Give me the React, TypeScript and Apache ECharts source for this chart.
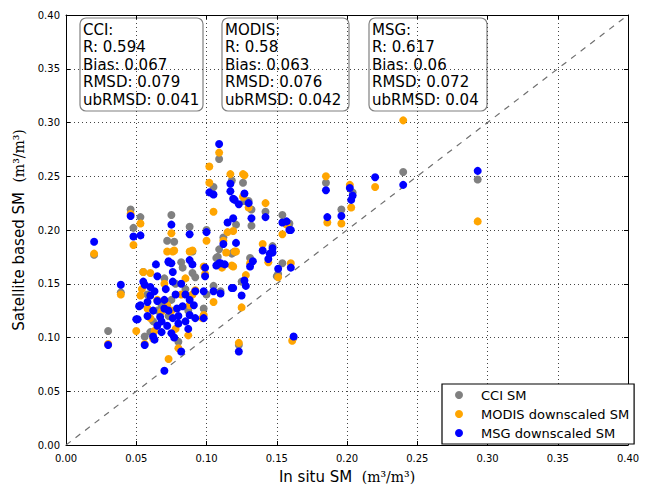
import React, { useEffect, useRef } from "react";
import * as echarts from "echarts";

const axisTicks = [0, 0.05, 0.1, 0.15, 0.2, 0.25, 0.3, 0.35, 0.4];
const seriesNames = ["CCI SM", "MODIS downscaled SM", "MSG downscaled SM"];

const cciPoints: number[][] = [
  [0.293, 0.247], [0.24, 0.254], [0.204, 0.235], [0.185, 0.244], [0.196, 0.219], [0.159, 0.206],
  [0.126, 0.244], [0.127, 0.227], [0.13, 0.227], [0.132, 0.219], [0.142, 0.217], [0.121, 0.205],
  [0.132, 0.204], [0.154, 0.214], [0.158, 0.205], [0.119, 0.179], [0.147, 0.185], [0.131, 0.174],
  [0.125, 0.152], [0.151, 0.159], [0.123, 0.093], [0.109, 0.266], [0.105, 0.24], [0.118, 0.246],
  [0.075, 0.214], [0.088, 0.203], [0.1, 0.2], [0.072, 0.19], [0.077, 0.189], [0.09, 0.18],
  [0.112, 0.193], [0.109, 0.182], [0.118, 0.178], [0.107, 0.174], [0.108, 0.175], [0.154, 0.169],
  [0.15, 0.157], [0.092, 0.156], [0.105, 0.148], [0.11, 0.143], [0.098, 0.127], [0.046, 0.219],
  [0.053, 0.212], [0.048, 0.202], [0.02, 0.177], [0.03, 0.106], [0.056, 0.101], [0.062, 0.115],
  [0.055, 0.161], [0.08, 0.096], [0.07, 0.155], [0.085, 0.145], [0.058, 0.14], [0.075, 0.135],
  [0.087, 0.125], [0.09, 0.16], [0.068, 0.13], [0.078, 0.15], [0.083, 0.165], [0.065, 0.125],
  [0.06, 0.105], [0.073, 0.12], [0.082, 0.17], [0.162, 0.1], [0.039, 0.142], [0.1, 0.14]
];

const modisPoints: number[][] = [
  [0.293, 0.208], [0.24, 0.302], [0.22, 0.24], [0.202, 0.242], [0.203, 0.221], [0.185, 0.25],
  [0.186, 0.207], [0.196, 0.206], [0.117, 0.252], [0.126, 0.252], [0.126, 0.231], [0.13, 0.221],
  [0.142, 0.225], [0.119, 0.199], [0.157, 0.205], [0.154, 0.196], [0.121, 0.18], [0.14, 0.187],
  [0.144, 0.17], [0.131, 0.169], [0.119, 0.166], [0.128, 0.158], [0.151, 0.156], [0.16, 0.169],
  [0.125, 0.128], [0.161, 0.097], [0.123, 0.095], [0.102, 0.259], [0.102, 0.244], [0.105, 0.217],
  [0.075, 0.197], [0.115, 0.198], [0.1, 0.19], [0.072, 0.18], [0.077, 0.181], [0.09, 0.181],
  [0.112, 0.19], [0.114, 0.179], [0.098, 0.166], [0.118, 0.167], [0.109, 0.272], [0.127, 0.251],
  [0.12, 0.18], [0.088, 0.18], [0.111, 0.165], [0.099, 0.159], [0.092, 0.144], [0.105, 0.133],
  [0.098, 0.121], [0.02, 0.178], [0.039, 0.14], [0.046, 0.215], [0.053, 0.206], [0.048, 0.186],
  [0.05, 0.106], [0.056, 0.094], [0.062, 0.099], [0.073, 0.08], [0.03, 0.094], [0.055, 0.161],
  [0.054, 0.145], [0.058, 0.127], [0.068, 0.124], [0.063, 0.106], [0.053, 0.139], [0.076, 0.18],
  [0.088, 0.13], [0.097, 0.118], [0.078, 0.108], [0.087, 0.102], [0.08, 0.09], [0.07, 0.15],
  [0.082, 0.14], [0.06, 0.16], [0.065, 0.135], [0.072, 0.13], [0.085, 0.155], [0.09, 0.14],
  [0.075, 0.125], [0.06, 0.118]
];

const msgPoints: number[][] = [
  [0.293, 0.255], [0.24, 0.242], [0.22, 0.249], [0.202, 0.239], [0.204, 0.232], [0.203, 0.228],
  [0.185, 0.237], [0.186, 0.212], [0.196, 0.213], [0.159, 0.2], [0.117, 0.243], [0.117, 0.236],
  [0.127, 0.234], [0.119, 0.229], [0.123, 0.224], [0.13, 0.225], [0.142, 0.212], [0.119, 0.211],
  [0.132, 0.211], [0.154, 0.207], [0.157, 0.208], [0.16, 0.2], [0.121, 0.188], [0.14, 0.181],
  [0.147, 0.183], [0.147, 0.179], [0.144, 0.173], [0.133, 0.171], [0.131, 0.166], [0.128, 0.148],
  [0.119, 0.146], [0.125, 0.139], [0.151, 0.164], [0.16, 0.165], [0.162, 0.101], [0.109, 0.28],
  [0.102, 0.235], [0.105, 0.233], [0.12, 0.228], [0.075, 0.205], [0.088, 0.196], [0.115, 0.207],
  [0.1, 0.198], [0.112, 0.187], [0.088, 0.172], [0.09, 0.168], [0.073, 0.171], [0.11, 0.169],
  [0.107, 0.167], [0.046, 0.213], [0.053, 0.195], [0.048, 0.194], [0.02, 0.189], [0.039, 0.149],
  [0.03, 0.093], [0.05, 0.117], [0.056, 0.093], [0.062, 0.101], [0.07, 0.069], [0.145, 0.178],
  [0.109, 0.169], [0.113, 0.168], [0.127, 0.153], [0.099, 0.165], [0.099, 0.157], [0.105, 0.143],
  [0.11, 0.141], [0.098, 0.143], [0.092, 0.143], [0.118, 0.146], [0.098, 0.118], [0.123, 0.087],
  [0.064, 0.168], [0.065, 0.157], [0.055, 0.152], [0.06, 0.147], [0.063, 0.143], [0.053, 0.13],
  [0.058, 0.12], [0.052, 0.129], [0.067, 0.119], [0.07, 0.127], [0.065, 0.111], [0.068, 0.115],
  [0.051, 0.117], [0.072, 0.111], [0.073, 0.17], [0.056, 0.149], [0.06, 0.139], [0.065, 0.134],
  [0.075, 0.169], [0.076, 0.161], [0.076, 0.152], [0.079, 0.127], [0.083, 0.129], [0.088, 0.121],
  [0.092, 0.118], [0.076, 0.118], [0.08, 0.113], [0.075, 0.104], [0.087, 0.108], [0.082, 0.087],
  [0.071, 0.145], [0.078, 0.14], [0.082, 0.15], [0.085, 0.14], [0.07, 0.135], [0.062, 0.125],
  [0.058, 0.133], [0.088, 0.135], [0.08, 0.12], [0.073, 0.125], [0.068, 0.105], [0.063, 0.098],
  [0.077, 0.1], [0.085, 0.115], [0.091, 0.13]
];

const oneToOne: number[][] = [[0, 0], [0.4, 0.4]];

const statBoxes = [
  { lines: ["CCI:", "R: 0.594", "Bias: 0.067", "RMSD: 0.079", "ubRMSD: 0.041"] },
  { lines: ["MODIS:", "R: 0.58", "Bias: 0.063", "RMSD: 0.076", "ubRMSD: 0.042"] },
  { lines: ["MSG:", "R: 0.617", "Bias: 0.06", "RMSD: 0.072", "ubRMSD: 0.04"] },
];

const FONT = "DejaVu Sans";

export default function App() {
  const ref = useRef<HTMLDivElement>(null);
  useEffect(() => {
    if (!ref.current) return;
    const chart = echarts.init(ref.current, undefined, { renderer: "svg" });
    const boxGeom = [
      { x: 80, w: 123 },
      { x: 222, w: 127 },
      { x: 369, w: 118 },
    ];
    const graphics: any[] = statBoxes.map((b, i) => ({
      type: "group",
      z: 100,
      children: [
        {
          type: "rect",
          shape: { x: boxGeom[i].x, y: 18, width: boxGeom[i].w, height: 93, r: 6 },
          style: { fill: "#fff", stroke: "#808080", lineWidth: 1.2 },
        },
        {
          type: "text",
          x: boxGeom[i].x + 3,
          y: 21,
          style: {
            text: b.lines.join("\n"),
            font: `15px "${FONT}"`,
            lineHeight: 17.5,
            fill: "#000",
          },
        },
      ],
    }));

    const axisCommon = {
      min: 0,
      max: 0.4,
      interval: 0.05,
      axisLine: { show: true, onZero: false, lineStyle: { color: "#000", width: 1 } },
      axisTick: { show: true, inside: true, length: 4, lineStyle: { color: "#000" } },
    };

    const option: any = {
      animation: false,
      backgroundColor: "#fff",
      grid: { left: 66, right: 18, top: 15, bottom: 40 },
      xAxis: [
        {
          ...axisCommon,
          type: "value",
          position: "bottom",
          name: "In situ SM  {u|(m³/m³)}",
          nameLocation: "middle",
          nameGap: 24,
          nameTextStyle: {
            fontFamily: FONT,
            fontSize: 15,
            color: "#000",
            rich: { u: { fontFamily: "DejaVu Serif", fontSize: 14, color: "#000" } },
          },
          axisLabel: {
            fontFamily: FONT,
            fontSize: 10,
            color: "#000",
            margin: 8,
            formatter: (v: number) => v.toFixed(2),
          },
          splitLine: { show: true, lineStyle: { color: "#444", type: [1, 3], width: 1 } },
        },
        {
          ...axisCommon,
          type: "value",
          position: "top",
          axisLabel: { show: false },
          splitLine: { show: false },
        },
      ],
      yAxis: [
        {
          ...axisCommon,
          type: "value",
          position: "left",
          name: "Satellite based SM  {u|(m³/m³)}",
          nameLocation: "middle",
          nameGap: 34,
          nameRotate: 90,
          nameTextStyle: {
            fontFamily: FONT,
            fontSize: 15,
            color: "#000",
            rich: { u: { fontFamily: "DejaVu Serif", fontSize: 14, color: "#000" } },
          },
          axisLabel: {
            fontFamily: FONT,
            fontSize: 10,
            color: "#000",
            margin: 6,
            formatter: (v: number) => v.toFixed(2),
          },
          splitLine: { show: true, lineStyle: { color: "#444", type: [1, 3], width: 1 } },
        },
        {
          ...axisCommon,
          type: "value",
          position: "right",
          axisLabel: { show: false },
          splitLine: { show: false },
        },
      ],
      legend: {
        data: seriesNames,
        orient: "vertical",
        left: 442,
        top: 384,
        padding: [4, 5, 4, 13],
        itemGap: 5,
        itemWidth: 8,
        itemHeight: 8,
        icon: "circle",
        borderColor: "#000",
        borderWidth: 1.2,
        borderRadius: 0,
        backgroundColor: "#fff",
        textStyle: { fontFamily: FONT, fontSize: 13, color: "#000", lineHeight: 14, padding: [0, 0, 0, 13] },
        z: 50,
      },
      series: [
        {
          type: "line",
          data: oneToOne,
          symbol: "none",
          silent: true,
          z: 1,
          lineStyle: { color: "#707070", width: 1.2, type: [6, 6] },
        },
        {
          name: seriesNames[0],
          type: "scatter",
          data: cciPoints,
          symbolSize: 8,
          itemStyle: { color: "#808080", opacity: 1 },
          z: 2,
        },
        {
          name: seriesNames[1],
          type: "scatter",
          data: modisPoints,
          symbolSize: 8,
          itemStyle: { color: "#FFA500", opacity: 1 },
          z: 3,
        },
        {
          name: seriesNames[2],
          type: "scatter",
          data: msgPoints,
          symbolSize: 8,
          itemStyle: { color: "#0000FF", opacity: 1 },
          z: 4,
        },
      ],
      graphic: graphics,
    };
    chart.setOption(option);
    return () => chart.dispose();
  }, []);
  return (
    <div
      ref={ref}
      style={{ position: "fixed", left: 0, top: 0, width: 646, height: 489 }}
    />
  );
}
